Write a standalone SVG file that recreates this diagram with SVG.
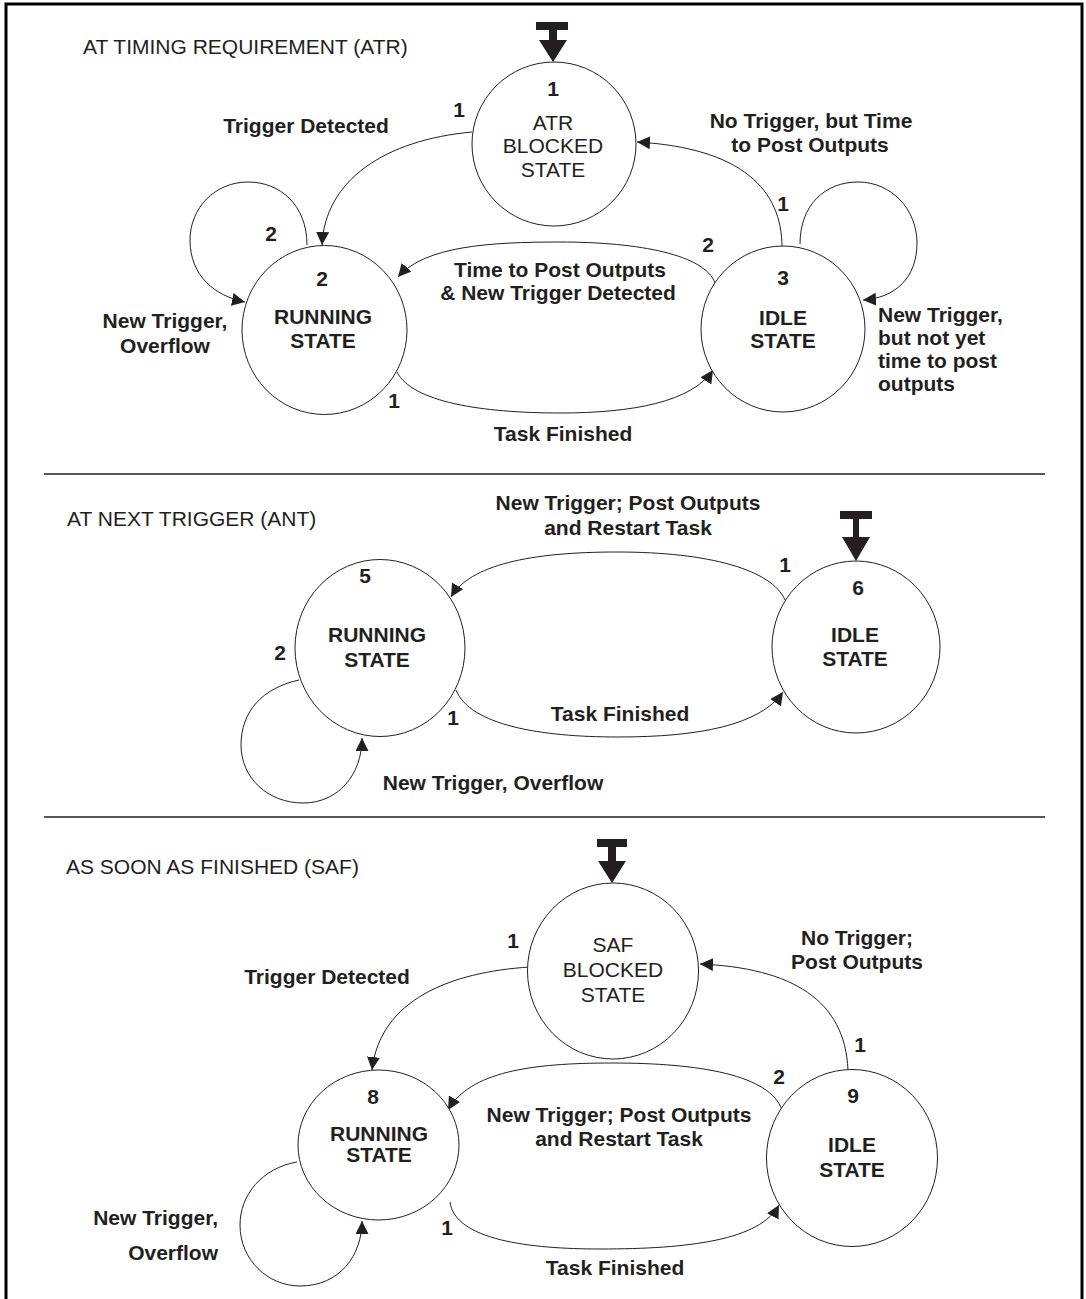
<svg xmlns="http://www.w3.org/2000/svg" width="1086" height="1299" viewBox="0 0 1086 1299">
  <style>
    .frame { stroke: #000; stroke-width: 3; fill: none; }
    .sep { stroke: #231f20; stroke-width: 1.4; }
    .state { fill: #fff; stroke: #231f20; stroke-width: 1; }
    .edge { fill: none; stroke: #231f20; stroke-width: 1; marker-end: url(#arrow); }
    .loop { fill: none; stroke: #231f20; stroke-width: 1; }
    .entry { fill: #231f20; }
    text { font-family: "Liberation Sans", Arial, sans-serif; font-size: 21px; fill: #231f20; }
    .title { font-weight: normal; }
    .b { font-weight: bold; }
    .c { text-anchor: middle; }
    .r { text-anchor: end; }
  </style>
  <defs>
    <marker id="arrow" markerUnits="userSpaceOnUse" markerWidth="14" markerHeight="13" refX="13" refY="6.5" orient="auto">
      <path d="M0,0 L13,6.5 L0,13 z" fill="#231f20"/>
    </marker>
  </defs>

  <rect width="1086" height="1299" fill="#fff"/>

  <!-- page frame (open at the bottom) -->
  <g id="frame">
    <path class="frame" d="M6,1299 V4 H1082 V1299"/>
    <line class="sep" x1="44" y1="474" x2="1045" y2="474"/>
    <line class="sep" x1="44" y1="817" x2="1045" y2="817"/>
  </g>

  <!-- section titles -->
  <g id="titles">
    <text class="title" x="83" y="54">AT TIMING REQUIREMENT (ATR)</text>
    <text class="title" x="67" y="526">AT NEXT TRIGGER (ANT)</text>
    <text class="title" x="66" y="874">AS SOON AS FINISHED (SAF)</text>
  </g>

  <!-- initial-state markers -->
  <g id="entries">
    <path class="entry" d="M536,22 H568 V30 H557 V40 H567 L553,62 L539,40 H549 V30 H536 z"/>
    <path class="entry" d="M840,511 H872 V519 H859 V537 H870 L856,561 L842,537 H853 V519 H840 z"/>
    <path class="entry" d="M597,839 H627 V847 H616 V861 H626 L612,883 L598,861 H608 V847 H597 z"/>
  </g>

  <!-- transitions -->
  <g id="connectors">
    <!-- ATR -->
    <path class="edge" d="M472,132 C385,140 325,180 322,245"/>
    <text class="b" x="459" y="117" text-anchor="middle">1</text>
    <text class="b c" x="306" y="133">Trigger Detected</text>

    <path class="edge" d="M307,245 C307,205 280,182 248,182 C215,182 190,208 190,240 C190,276 215,296 245,302"/>
    <text class="b c" x="271" y="241">2</text>
    <text class="b c" x="165" y="328">New Trigger,</text>
    <text class="b c" x="165" y="353">Overflow</text>

    <path class="edge" d="M715,283 C705,255 640,242 560,242 C490,242 425,246 398,277"/>
    <text class="b c" x="708" y="252">2</text>
    <text class="b c" x="560" y="277">Time to Post Outputs</text>
    <text class="b c" x="558" y="300">&amp; New Trigger Detected</text>

    <path class="edge" d="M397,372 C412,402 482,413 560,413 C632,413 692,402 713,370"/>
    <text class="b c" x="394" y="408">1</text>
    <text class="b c" x="563" y="441">Task Finished</text>

    <path class="edge" d="M782,247 C782,190 742,148 637,142"/>
    <text class="b c" x="783" y="211">1</text>
    <text class="b c" x="811" y="128">No Trigger, but Time</text>
    <text class="b c" x="810" y="152">to Post Outputs</text>

    <path class="edge" d="M800,244 C800,205 825,182 858,182 C892,182 917,210 917,243 C917,278 895,298 863,300"/>
    <text class="b" x="878" y="322">New Trigger,</text>
    <text class="b" x="878" y="345">but not yet</text>
    <text class="b" x="878" y="368">time to post</text>
    <text class="b" x="878" y="391">outputs</text>

    <!-- ANT -->
    <path class="edge" d="M785,600 C772,570 710,552 617,552 C530,552 470,565 451,597"/>
    <text class="b c" x="785" y="572">1</text>
    <text class="b c" x="628" y="510">New Trigger; Post Outputs</text>
    <text class="b c" x="628" y="535">and Restart Task</text>

    <path class="edge" d="M456,690 C470,725 540,737 618,737 C700,737 760,725 783,692"/>
    <text class="b c" x="453" y="725">1</text>
    <text class="b c" x="620" y="721">Task Finished</text>

    <path class="edge" d="M299,680 C262,688 241,712 241,745 C241,778 268,803 303,803 C338,803 362,775 362,738"/>
    <text class="b c" x="280" y="660">2</text>
    <text class="b c" x="493" y="790">New Trigger, Overflow</text>

    <!-- SAF -->
    <path class="edge" d="M530,967 C450,972 380,1000 372,1070"/>
    <text class="b c" x="513" y="948">1</text>
    <text class="b c" x="327" y="984">Trigger Detected</text>

    <path class="edge" d="M848,1070 C845,1000 792,968 700,964"/>
    <text class="b c" x="860" y="1052">1</text>
    <text class="b c" x="857" y="945">No Trigger;</text>
    <text class="b c" x="857" y="969">Post Outputs</text>

    <path class="edge" d="M782,1110 C770,1075 700,1063 612,1063 C530,1063 470,1072 448,1110"/>
    <text class="b c" x="779" y="1084">2</text>
    <text class="b c" x="619" y="1122">New Trigger; Post Outputs</text>
    <text class="b c" x="619" y="1146">and Restart Task</text>

    <path class="edge" d="M450,1202 C455,1240 530,1249 600,1249 C690,1249 760,1240 779,1205"/>
    <text class="b c" x="447" y="1235">1</text>
    <text class="b c" x="615" y="1275">Task Finished</text>

    <path class="edge" d="M297,1162 C262,1168 240,1195 240,1225 C240,1260 268,1286 300,1286 C340,1286 362,1255 362,1221"/>
    <text class="b r" x="218" y="1225">New Trigger,</text>
    <text class="b r" x="218" y="1260">Overflow</text>
  </g>

  <!-- ATR states -->
  <g id="node-1">
    <ellipse class="state" cx="554" cy="144" rx="82" ry="82"/>
    <text class="b c" x="553" y="96">1</text>
    <text class="c" x="553" y="130">ATR</text>
    <text class="c" x="553" y="153">BLOCKED</text>
    <text class="c" x="553" y="177">STATE</text>
  </g>
  <g id="node-2">
    <ellipse class="state" cx="324.5" cy="330" rx="82.5" ry="84.5"/>
    <text class="b c" x="322" y="286">2</text>
    <text class="b c" x="323" y="324">RUNNING</text>
    <text class="b c" x="323" y="348">STATE</text>
  </g>
  <g id="node-3">
    <ellipse class="state" cx="783" cy="329" rx="82" ry="83"/>
    <text class="b c" x="783" y="285">3</text>
    <text class="b c" x="783" y="325">IDLE</text>
    <text class="b c" x="783" y="348">STATE</text>
  </g>

  <!-- ANT states -->
  <g id="node-5">
    <ellipse class="state" cx="380" cy="648" rx="85" ry="88.5"/>
    <text class="b c" x="365" y="583">5</text>
    <text class="b c" x="377" y="642">RUNNING</text>
    <text class="b c" x="377" y="667">STATE</text>
  </g>
  <g id="node-6">
    <ellipse class="state" cx="856" cy="647" rx="84" ry="86"/>
    <text class="b c" x="858" y="595">6</text>
    <text class="b c" x="855" y="642">IDLE</text>
    <text class="b c" x="855" y="666">STATE</text>
  </g>

  <!-- SAF states -->
  <g id="node-saf-blocked">
    <ellipse class="state" cx="613" cy="971" rx="85.5" ry="88"/>
    <text class="c" x="613" y="952">SAF</text>
    <text class="c" x="613" y="977">BLOCKED</text>
    <text class="c" x="613" y="1002">STATE</text>
  </g>
  <g id="node-8">
    <ellipse class="state" cx="378.5" cy="1145" rx="80.5" ry="75"/>
    <text class="b c" x="373" y="1104">8</text>
    <text class="b c" x="379" y="1141">RUNNING</text>
    <text class="b c" x="379" y="1162">STATE</text>
  </g>
  <g id="node-9">
    <ellipse class="state" cx="852" cy="1158" rx="85.5" ry="88.5"/>
    <text class="b c" x="853" y="1103">9</text>
    <text class="b c" x="852" y="1152">IDLE</text>
    <text class="b c" x="852" y="1177">STATE</text>
  </g>
</svg>
